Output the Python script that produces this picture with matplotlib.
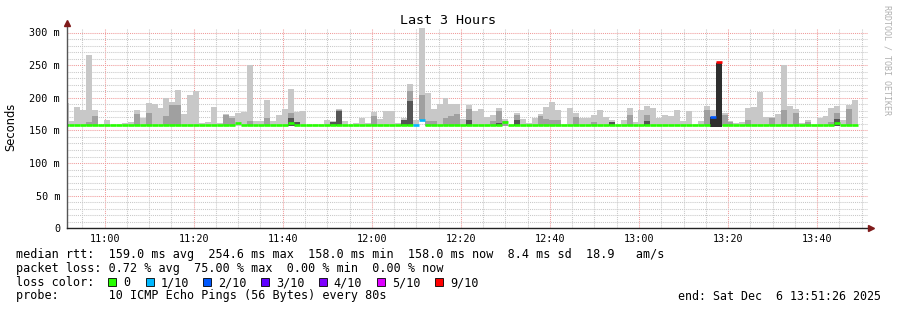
import matplotlib
matplotlib.use('Agg')
import matplotlib.pyplot as plt
from matplotlib.patches import Rectangle

# ---------------- data ----------------
window_start = "10:51:26"
window_minutes = 180
step_seconds = 80
first_bin_offset_s = -53   # first 80 s bin starts 53 s before window start

x_tick_labels = ["11:00", "11:20", "11:40", "12:00", "12:20", "12:40", "13:00", "13:20", "13:40"]
y_tick_values = [0, 50, 100, 150, 200, 250, 300]
y_tick_labels = ["0", "50 m", "100 m", "150 m", "200 m", "250 m", "300 m"]

# highest ping per bin (ms)
smoke_max = [192, 164, 186, 181, 265, 181, 159, 166, 159, 159,
             161, 163, 181, 169, 192, 190, 184, 200, 193, 212,
             175, 204, 210, 161, 163, 186, 161, 175, 172, 177,
             178, 250, 164, 164, 196, 164, 174, 183, 213, 178,
             180, 159, 159, 159, 166, 164, 183, 164, 159, 161,
             169, 161, 178, 167, 180, 180, 161, 169, 221, 166,
             307, 207, 183, 190, 200, 190, 190, 167, 189, 180,
             183, 170, 174, 184, 167, 159, 177, 167, 161, 169,
             175, 186, 193, 181, 159, 184, 177, 169, 169, 174,
             181, 170, 166, 159, 166, 184, 163, 181, 187, 184,
             169, 174, 172, 181, 164, 180, 159, 164, 187, 181,
             255, 177, 164, 161, 163, 184, 186, 209, 170, 170,
             175, 250, 187, 183, 161, 166, 159, 169, 172, 184,
             187, 166, 189, 196]

# denser part of the smoke (0 = none)
smoke_mid = [0, 0, 0, 0, 163, 172, 0, 0, 0, 0,
             0, 0, 175, 0, 177, 0, 0, 172, 189, 189,
             0, 0, 0, 0, 0, 0, 0, 174, 169, 0,
             0, 164, 0, 0, 169, 0, 0, 0, 177, 0,
             0, 0, 0, 0, 0, 0, 182, 0, 0, 0,
             0, 0, 172, 0, 0, 0, 0, 0, 210, 0,
             205, 164, 164, 0, 169, 172, 175, 0, 183, 0,
             0, 0, 164, 180, 164, 0, 174, 0, 0, 0,
             172, 167, 166, 166, 0, 0, 170, 0, 0, 163,
             0, 0, 0, 0, 0, 174, 0, 0, 174, 0,
             0, 0, 0, 0, 0, 0, 0, 0, 181, 0,
             0, 174, 163, 0, 0, 166, 0, 0, 0, 169,
             0, 181, 0, 177, 0, 163, 0, 0, 0, 163,
             177, 0, 183, 0]

# densest part of the smoke (0 = none)
smoke_dark = [0, 0, 0, 0, 0, 0, 0, 0, 0, 0,
              0, 0, 0, 0, 0, 0, 0, 0, 0, 0,
              0, 0, 0, 0, 0, 0, 0, 0, 0, 0,
              0, 0, 0, 0, 0, 0, 0, 0, 169, 163,
              0, 0, 0, 0, 0, 163, 179, 0, 0, 0,
              0, 0, 0, 0, 0, 0, 0, 166, 195, 0,
              0, 0, 0, 0, 0, 0, 0, 0, 166, 0,
              0, 0, 0, 161, 0, 0, 166, 0, 0, 0,
              0, 0, 0, 0, 0, 0, 0, 0, 0, 0,
              0, 0, 163, 0, 0, 0, 0, 0, 164, 0,
              0, 0, 0, 0, 0, 0, 0, 0, 0, 171,
              254, 0, 0, 0, 0, 0, 0, 0, 0, 0,
              0, 0, 0, 0, 0, 0, 0, 0, 0, 0,
              168, 0, 0, 0]

# lowest ping per bin (ms)
smoke_min = [157.5] * 59 + [157.5, 166] + [157.5] * 48 + [155, 155] + [157.5] * 23

# median rtt per bin (ms)
median_rtt = [159.0] * 134
for _i, _v in [(29, 161.5), (38, 161), (60, 166), (74, 162.5), (109, 171), (110, 254.6), (130, 161)]:
    median_rtt[_i] = _v

# packet loss per bin (tenths)
loss_tenths = [0] * 134
for _i, _v in [(59, 1), (60, 1), (109, 2), (110, 9)]:
    loss_tenths[_i] = _v

loss_legend = ["0", "1/10", "2/10", "3/10", "4/10", "5/10", "9/10"]
loss_colors = {0: "#26ff00", 1: "#00b8ff", 2: "#0059ff", 3: "#5e00ff",
               4: "#7e00ff", 5: "#dd00ff", 9: "#ff0000"}
legend_keys = [0, 1, 2, 3, 4, 5, 9]

# ---------------- helpers ----------------
def to_min(hhmm):
    parts = [int(p) for p in hhmm.split(":")]
    while len(parts) < 3:
        parts.append(0)
    return parts[0] * 60 + parts[1] + parts[2] / 60.0

t0 = to_min(window_start)
step_min = step_seconds / 60.0
n = len(smoke_max)
starts = [first_bin_offset_s / 60.0 + k * step_min for k in range(n)]

W, H = 897, 310
fig = plt.figure(figsize=(W / 100, H / 100), dpi=100)
fig.patch.set_facecolor('white')

def fx(px):
    return px / W

def fy(py):
    return 1 - py / H

L, R, T, B = 66.5, 868, 27.7, 228.3
ymax = 300 + (B - T - (B - 32.5)) / ((B - 32.5) / 300)
ax = fig.add_axes([fx(L), fy(B), (R - L) / W, (B - T) / H])
ax.set_facecolor('white')
ax.set_xlim(0, window_minutes)
ax.set_ylim(0, ymax)

# smoke
def draw_layer(tops, color):
    xs, hs, bs = [], [], []
    for k in range(n):
        if tops[k] and tops[k] > smoke_min[k]:
            xs.append(starts[k])
            bs.append(smoke_min[k])
            hs.append(tops[k] - smoke_min[k])
    ax.bar(xs, hs, bottom=bs, width=step_min, align='edge', color=color,
           linewidth=0, antialiased=False, zorder=2)

draw_layer(smoke_max, '#c8c8c8')
draw_layer(smoke_mid, '#a0a0a0')
dark_light = [smoke_dark[k] if loss_tenths[k] < 2 else 0 for k in range(n)]
dark_heavy = [smoke_dark[k] if loss_tenths[k] >= 2 else 0 for k in range(n)]
draw_layer(dark_light, '#555555')
draw_layer(dark_heavy, '#2e2e2e')

# median line coloured by loss
ax.hlines(median_rtt, starts, [s + step_min for s in starts],
          colors=[loss_colors[l] for l in loss_tenths], linewidth=1.9, zorder=4)

# grid
xt = [to_min(s) - t0 for s in x_tick_labels]
minor_x = []
m = xt[0]
while m - 5 > 0:
    m -= 5
while m < window_minutes:
    minor_x.append(m)
    m += 5
ax.set_xticks(xt)
ax.set_xticklabels(x_tick_labels)
ax.set_xticks(minor_x, minor=True)
ax.set_yticks(y_tick_values)
ax.set_yticklabels(y_tick_labels)
ax.set_yticks(list(range(0, 310, 10)), minor=True)
ax.grid(which='minor', color='#c8c8c8', linestyle=(0, (1, 1)), linewidth=0.75)
ax.grid(which='major', color='#f09a9a', linestyle=(0, (1, 1)), linewidth=0.75)
ax.set_axisbelow(True)

mono = 'DejaVu Sans Mono'
ax.tick_params(axis='both', which='both', length=0)
ax.tick_params(axis='x', pad=4.2, labelsize=7.3)
ax.tick_params(axis='y', pad=4.6, labelsize=7.3)
for lab in ax.get_xticklabels() + ax.get_yticklabels():
    lab.set_family(mono)

for s in ['top', 'right']:
    ax.spines[s].set_visible(False)
ax.spines['left'].set_color('#555555')
ax.spines['bottom'].set_color('#222222')
ax.spines['left'].set_linewidth(1.0)
ax.spines['bottom'].set_linewidth(1.0)
ax.spines['left'].set_zorder(5)
ax.spines['bottom'].set_zorder(5)
ax.spines['left'].set_bounds(0, ymax + 4 / ((B - 32.5) / 300))

# arrows
ax_h = B - T
ax_w = R - L
ax.plot([0], [1 + 5 / ax_h], marker='^', color='#7f1a1a', markersize=4.5, clip_on=False,
        zorder=6, transform=ax.transAxes, linestyle='none')
ax.plot([1 + 3 / ax_w], [0], marker='>', color='#7f1a1a', markersize=4.5, clip_on=False,
        zorder=6, transform=ax.transAxes, linestyle='none')

# title / labels
fig.text(fx(448), fy(24), "Last 3 Hours", family=mono, size=9.6, ha='center', va='baseline')
fig.text(fx(11), fy(127), "Seconds", family='DejaVu Sans', size=8.3, rotation=90,
         ha='center', va='center')
fig.text(fx(887), fy(5), "RRDTOOL / TOBI OETIKER", family=mono, size=6.0, rotation=-90,
         ha='center', va='top', color='#b0b0b0')

# legend
fs = 8.5
fig.text(fx(16), fy(258),
         "median rtt:  159.0 ms avg  254.6 ms max  158.0 ms min  158.0 ms now  8.4 ms sd  18.9   am/s",
         family=mono, size=fs, va='baseline')
fig.text(fx(16), fy(272),
         "packet loss: 0.72 % avg  75.00 % max  0.00 % min  0.00 % now",
         family=mono, size=fs, va='baseline')
fig.text(fx(16), fy(286), "loss color:", family=mono, size=fs, va='baseline')
box_x = [108, 145.7, 203.3, 261, 318.7, 376.7, 435]
for bx, key, lab in zip(box_x, legend_keys, loss_legend):
    fig.patches.append(Rectangle((fx(bx), fy(286)), 8 / W, 8 / H, transform=fig.transFigure,
                                 facecolor=loss_colors[key], edgecolor='black', linewidth=0.6))
    fig.text(fx(bx + 15), fy(286), lab, family=mono, size=fs, va='baseline')
fig.text(fx(16), fy(299.5), "probe:       10 ICMP Echo Pings (56 Bytes) every 80s",
         family=mono, size=fs, va='baseline')
fig.text(fx(881), fy(299.5), "end: Sat Dec  6 13:51:26 2025", family=mono, size=8.4,
         va='baseline', ha='right')

fig.savefig('out.png', dpi=100, facecolor='white')
